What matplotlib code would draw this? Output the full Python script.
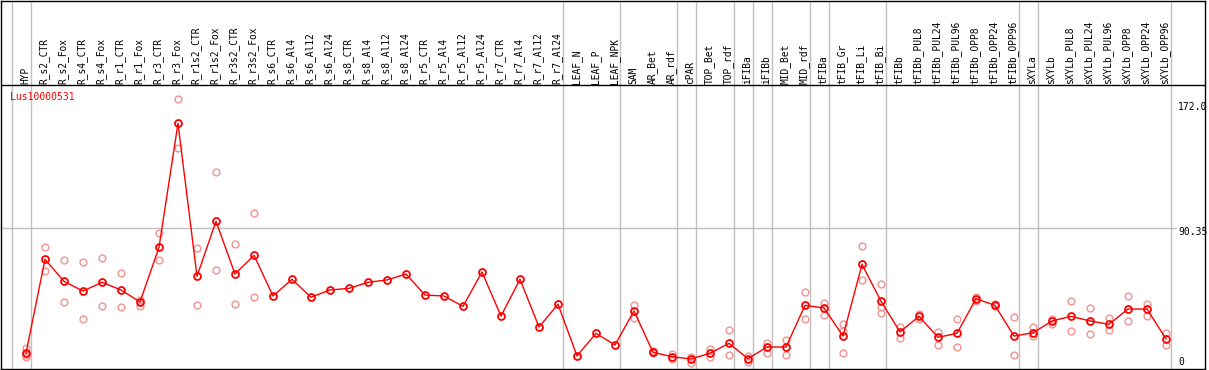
import matplotlib
matplotlib.use("Agg")
import matplotlib.pyplot as plt
import matplotlib.transforms as mtransforms

categories = ["HYP", "R_s2_CTR", "R_s2_Fox", "R_s4_CTR", "R_s4_Fox", "R_r1_CTR", "R_r1_Fox",
              "R_r3_CTR", "R_r3_Fox", "R_r1s2_CTR", "R_r1s2_Fox", "R_r3s2_CTR", "R_r3s2_Fox",
              "R_s6_CTR", "R_s6_Al4", "R_s6_Al12", "R_s6_Al24", "R_s8_CTR", "R_s8_Al4",
              "R_s8_Al12", "R_s8_Al24", "R_r5_CTR", "R_r5_Al4", "R_r5_Al12", "R_r5_Al24",
              "R_r7_CTR", "R_r7_Al4", "R_r7_Al12", "R_r7_Al24", "LEAF_N", "LEAF_P", "LEAF_NPK",
              "SAM", "AR_Bet", "AR_rdf", "cPAR", "TOP_Bet", "TOP_rdf", "iFIBa", "iFIBb",
              "MID_Bet", "MID_rdf", "tFIBa", "tFIB_Gr", "tFIB_Li", "tFIB_Bi", "tFIBb",
              "tFIBb_PUL8", "tFIBb_PUL24", "tFIBb_PUL96", "tFIBb_OPP8", "tFIBb_OPP24",
              "tFIBb_OPP96", "sXYLa", "sXYLb", "sXYLb_PUL8", "sXYLb_PUL24", "sXYLb_PUL96",
              "sXYLb_OPP8", "sXYLb_OPP24", "sXYLb_OPP96"]

means = [11.8, 70.9, 57.0, 50.9, 56.4, 51.6, 44.0, 78.4, 156.4, 60.2, 94.8, 61.6, 73.4,
         47.8, 58.3, 47.0, 51.6, 52.6, 56.4, 57.9, 61.6, 48.4, 47.8, 41.3, 62.9,
         35.2, 58.3, 28.3, 42.6, 10.1, 24.3, 17.0,
         38.4, 12.4, 9.6, 8.2, 11.8, 18.0, 8.4, 15.7, 15.7, 41.9, 40.3, 22.6, 67.7, 44.5,
         25.2, 35.0, 21.8, 24.3, 46.1, 41.9, 22.6, 24.7, 32.1, 35.0, 32.1, 30.0, 39.6, 39.6, 20.8]

replicates = [[15.3, 9.6, 10.5], [78.4, 63.3], [70.2, 43.8], [69.0, 33.3], [71.5, 41.3],
              [62.1, 40.7], [45.3, 41.7], [87.2, 70.2], [172.0, 141.1], [77.8, 41.9],
              [125.6, 64.0], [80.5, 42.8], [99.8, 47.0],
              [], [], [], [], [], [], [], [], [], [], [], [], [], [], [], [], [], [], [],
              [41.9, 34.2], [13.0, 11.8], [11.1, 8.2], [9.6, 5.9], [14.7, 9.2], [26.4, 10.5],
              [10.1, 6.3], [18.4, 11.9], [20.1, 10.5], [50.1, 33.1], [43.4, 36.0],
              [30.0, 26.0, 11.8], [79.0, 57.7], [55.2, 41.1, 36.9],
              [28.5, 21.2], [36.5, 33.5], [25.2, 17.2], [33.1, 15.7], [47.4, 44.5],
              [42.5, 41.3], [34.6, 10.5], [28.3, 22.6], [33.1, 30.0], [44.5, 25.6],
              [40.1, 23.7], [34.0, 26.6], [47.6, 32.1], [43.0, 35.4], [24.5, 16.8]]

group_ends = [-1, 0, 28, 31, 34, 35, 37, 38, 39, 41, 42, 45, 52, 53, 60]
ytick_values = [172.0, 90.35, 0]
ytick_labels = ["172.0", "90.35", "0"]
gene = "Lus10000531"

W, H = 1209, 370
fig = plt.figure(figsize=(W / 100, H / 100), dpi=100)
ax = fig.add_axes([1.0 / W, 1.0 / H, 1204.0 / W, 368.5 / H])

px_per_cat = 19.0
x0_px = 26.0
ax_left_px, ax_right_px = 1.0, 1205.0
ax.set_xlim((ax_left_px - x0_px) / px_per_cat, (ax_right_px - x0_px) / px_per_cat)
s = 1.59
zero_px = 372.0
ax.set_ylim((zero_px - 369.0) / s, (zero_px - 0.5) / s)
header_v = (zero_px - 85.0) / s

for sp in ax.spines.values():
    sp.set_color("black")
    sp.set_linewidth(1.0)
ax.set_xticks([])
ax.set_yticks([])

grid_c = "#c0c0c0"
for g in group_ends:
    ax.axvline(g + 5.0 / px_per_cat, color=grid_c, lw=1.0, zorder=1)

end_frac = (1176.0 - ax_left_px) / (ax_right_px - ax_left_px)
ax.axhline(90.35, xmin=0, xmax=end_frac, color=grid_c, lw=1.0, zorder=1)
ax.axhline(header_v, color="black", lw=1.0, zorder=2)

xs = list(range(len(categories)))
rep_x, rep_y = [], []
for i, reps in enumerate(replicates):
    for r in reps:
        rep_x.append(i)
        rep_y.append(r)
ax.plot(rep_x, rep_y, linestyle="none", marker="o", ms=4.9, mfc="none",
        mec="#f09a9a", mew=1.1, zorder=3)
ax.plot(xs, means, color="#ff0000", lw=1.0, zorder=4)
ax.plot(xs, means, linestyle="none", marker="o", ms=5.0, mfc="none",
        mec="#ff0000", mew=1.3, zorder=5)

mono = "DejaVu Sans Mono"
for i, c in enumerate(categories):
    ax.text(i - 0.05, header_v + 1.5 / s, c, rotation=90, ha="center", va="bottom",
            fontsize=6.9, family=mono, color="black", zorder=6)

trans = mtransforms.blended_transform_factory(ax.transAxes, ax.transData)
lab_x = (1178.0 - ax_left_px) / (ax_right_px - ax_left_px)
offsets = [-8.5, -3.7, 10.0]
for v, lab, off in zip(ytick_values, ytick_labels, offsets):
    ax.annotate(lab, xy=(lab_x, v), xycoords=trans, xytext=(0, off),
                textcoords="offset pixels", ha="left", va="center",
                fontsize=7, family=mono, color="black", zorder=6)

ax.text((10.0 - ax_left_px) / (ax_right_px - ax_left_px), (zero_px - 97.5) / s, gene,
        transform=trans, ha="left", va="center", fontsize=7, family=mono,
        color="#ff0000", zorder=6)

fig.savefig("out.png", dpi=100)
